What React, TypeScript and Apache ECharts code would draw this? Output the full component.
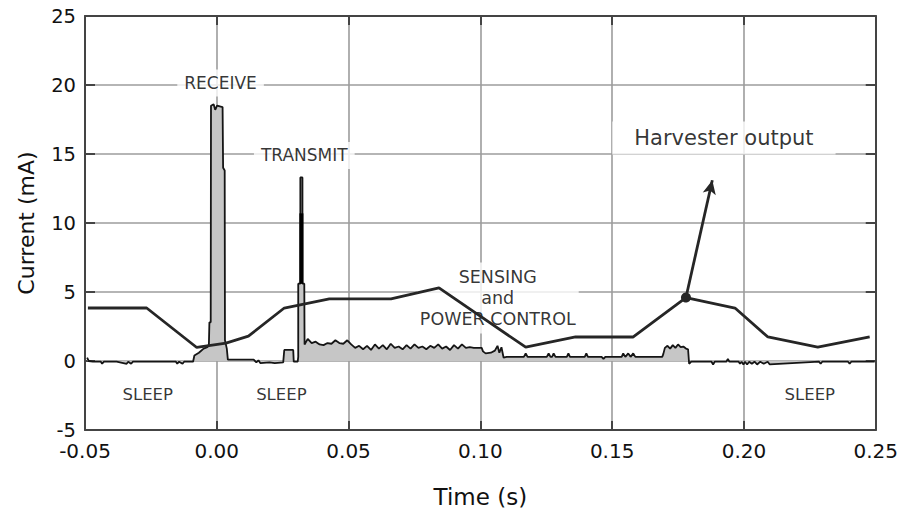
import React, { useEffect, useRef } from "react";
import * as echarts from "echarts";

// Harvester output (thick line)
const harvesterTime = [-0.0489, -0.0266, -0.0076, 0.0035, 0.012, 0.0256, 0.0427, 0.0661, 0.0843, 0.1172, 0.1361, 0.158, 0.178, 0.1966, 0.2091, 0.228, 0.2477];
const harvesterCurrent = [3.84, 3.84, 0.98, 1.3, 1.8, 3.84, 4.5, 4.5, 5.3, 1.0, 1.74, 1.74, 4.6, 3.84, 1.74, 1.0, 1.74];

// Load current trace (thin line, grey fill)
const loadTime = [
  -0.0492, -0.0486, -0.0470, -0.0440, -0.0435, -0.0428, -0.0380, -0.0342, -0.0336, -0.0325, -0.0318,
  -0.0250, -0.0155, -0.0150, -0.0143, -0.0130, -0.0124, -0.0090, -0.0085, -0.0068, -0.0050, -0.0036,
  -0.0030, -0.0028, -0.0023, -0.0022, -0.0012, -0.0006, 0.0001, 0.0022, 0.0024, 0.0030, 0.0031, 0.0038,
  0.0042, 0.0140, 0.0150, 0.0158, 0.0165, 0.0200, 0.0220, 0.0252, 0.0256, 0.0290, 0.0292, 0.0307,
  0.0309, 0.0309, 0.0317, 0.0317, 0.0325, 0.0325, 0.0332, 0.0333, 0.0345, 0.0360, 0.0375, 0.0390,
  0.0405, 0.0420, 0.0435, 0.0450, 0.0465, 0.0480, 0.0495, 0.0510, 0.0525, 0.0540, 0.0555, 0.0570,
  0.0585, 0.0600, 0.0615, 0.0630, 0.0645, 0.0660, 0.0675, 0.0690, 0.0705, 0.0720, 0.0735, 0.0750,
  0.0765, 0.0780, 0.0795, 0.0810, 0.0825, 0.0840, 0.0855, 0.0870, 0.0885, 0.0900, 0.0915, 0.0930,
  0.0945, 0.0960, 0.0975, 0.0990, 0.1005, 0.1010, 0.1020, 0.1040, 0.1055, 0.1065, 0.1072, 0.1080,
  0.1088, 0.1100, 0.1165, 0.1172, 0.1179, 0.1252, 0.1259, 0.1266, 0.1272, 0.1278, 0.1285, 0.1328,
  0.1334, 0.1340, 0.1396, 0.1402, 0.1408, 0.1460, 0.1467, 0.1474, 0.1536, 0.1542, 0.1550, 0.1561,
  0.1570, 0.1580, 0.1588, 0.1690, 0.1694, 0.1700, 0.1710, 0.1720, 0.1730, 0.1740, 0.1750, 0.1760,
  0.1770, 0.1780, 0.1788, 0.1792, 0.1800, 0.1877, 0.1883, 0.1889, 0.1933, 0.1939, 0.1945, 0.1980,
  0.1985, 0.1991, 0.1998, 0.2004, 0.2012, 0.2020, 0.2030, 0.2040, 0.2050, 0.2062, 0.2075, 0.2090,
  0.2098, 0.2285, 0.2291, 0.2297, 0.2395, 0.2401, 0.2407, 0.2496
];
const loadCurrent = [
  0.25, 0.0, -0.05, -0.05, -0.2, -0.05, -0.05, -0.2, -0.05, -0.2, -0.05,
  -0.05, -0.05, -0.2, -0.05, -0.2, -0.05, -0.05, 0.4, 0.6, 0.9, 1.0,
  1.2, 2.8, 2.8, 18.5, 18.6, 18.2, 18.5, 18.4, 14.0, 13.8, 1.5, 0.9,
  0.1, 0.1, -0.1, 0.05, -0.15, -0.1, -0.15, -0.1, 0.8, 0.8, -0.05, -0.05,
  0.3, 5.6, 5.6, 13.3, 13.3, 5.6, 5.6, 1.2, 1.6, 1.3, 1.4, 1.2,
  1.15, 1.3, 1.25, 1.5, 1.3, 1.25, 1.5, 1.2, 0.95, 1.1, 0.85, 1.1,
  0.8, 1.2, 0.9, 1.15, 0.85, 1.25, 0.95, 1.05, 0.85, 1.15, 0.9, 1.2,
  0.95, 1.05, 0.85, 1.1, 0.95, 1.2, 0.9, 1.05, 0.8, 1.15, 0.9, 1.2,
  0.95, 1.0, 0.95, 0.95, 0.95, 0.7, 0.55, 0.6, 0.75, 1.1, 0.6, 1.0,
  0.25, 0.3, 0.3, 0.55, 0.3, 0.3, 0.55, 0.3, 0.3, 0.55, 0.3, 0.3,
  0.55, 0.3, 0.3, 0.55, 0.3, 0.3, 0.15, 0.3, 0.3, 0.55, 0.3, 0.55,
  0.3, 0.55, 0.3, 0.3, 0.5, 0.95, 1.1, 0.9, 1.15, 0.95, 1.2, 1.0,
  1.05, 0.9, 0.85, -0.2, -0.05, -0.05, -0.25, -0.05, -0.05, 0.15, -0.05, -0.05,
  -0.2, -0.05, -0.25, -0.05, -0.25, -0.05, -0.2, -0.05, -0.25, -0.05, -0.2, -0.05,
  -0.25, -0.05, -0.2, -0.05, -0.05, -0.2, -0.05, -0.05
];

// Dense burst inside the transmit spike
const burstTime = [0.0321, 0.0321];
const burstCurrent = [5.6, 10.7];

// Harvester output arrow (from trace point to label)
const arrowStart = [0.178, 4.6];
const arrowEnd = [0.188, 13.1];

// Annotations
const annotationText = ["RECEIVE", "TRANSMIT", "SENSING\nand\nPOWER CONTROL", "Harvester output", "SLEEP", "SLEEP", "SLEEP"];
const annotationTime = [0.00144, 0.0332, 0.1066, 0.1924, -0.0262, 0.0245, 0.225];
const annotationCurrent = [20.14, 14.9, 4.57, 16.16, -2.46, -2.46, -2.46];

const xTickFormat = (v: number) => v.toFixed(2);

const FONT = "DejaVu Sans";

export default function App() {
  const ref = useRef<HTMLDivElement>(null);
  useEffect(() => {
    if (!ref.current) return;
    const chart = echarts.init(ref.current, undefined, { renderer: "svg" });
    const annStyles: any[] = [
      { fontSize: 17, backgroundColor: "#fff", padding: [5, 7] },
      { fontSize: 17, backgroundColor: "#fff", padding: [5, 7] },
      { fontSize: 17.5, lineHeight: 21, backgroundColor: "#fff", padding: [4, 3] },
      { fontSize: 21, backgroundColor: "#fff", padding: [6, 22] },
      { fontSize: 16.5 },
      { fontSize: 16.5 },
      { fontSize: 16.5 },
    ];
    const axisLineStyle = { color: "#444", width: 2 };
    const tickStyle = { color: "#444", width: 2 };
    const gridStyle = { color: "#9c9c9c", width: 1.6 };
    const option: any = {
      animation: false,
      backgroundColor: "#fff",
      grid: { left: 85, right: 23, top: 16, bottom: 84, containLabel: false },
      xAxis: [
        {
          type: "value",
          min: -0.05,
          max: 0.25,
          interval: 0.05,
          name: "Time (s)",
          nameLocation: "middle",
          nameGap: 55,
          nameTextStyle: { fontFamily: FONT, fontSize: 23, color: "#111" },
          axisLine: { show: true, onZero: false, lineStyle: axisLineStyle },
          axisTick: { show: true, inside: true, length: 9, lineStyle: tickStyle },
          axisLabel: { formatter: xTickFormat, fontFamily: FONT, fontSize: 20, color: "#111", margin: 11 },
          splitLine: { show: true, lineStyle: gridStyle },
        },
        {
          type: "value",
          position: "top",
          min: -0.05,
          max: 0.25,
          interval: 0.05,
          axisLine: { show: true, onZero: false, lineStyle: axisLineStyle },
          axisTick: { show: true, inside: true, length: 9, lineStyle: tickStyle },
          axisLabel: { show: false },
          splitLine: { show: false },
        },
      ],
      yAxis: [
        {
          type: "value",
          min: -5,
          max: 25,
          interval: 5,
          name: "Current (mA)",
          nameLocation: "middle",
          nameGap: 48,
          nameTextStyle: { fontFamily: FONT, fontSize: 22, color: "#111" },
          axisLine: { show: true, onZero: false, lineStyle: axisLineStyle },
          axisTick: { show: true, inside: true, length: 10, lineStyle: tickStyle },
          axisLabel: { fontFamily: FONT, fontSize: 19.5, color: "#111", margin: 9 },
          splitLine: { show: true, lineStyle: gridStyle },
        },
        {
          type: "value",
          position: "right",
          min: -5,
          max: 25,
          interval: 5,
          axisLine: { show: true, onZero: false, lineStyle: axisLineStyle },
          axisTick: { show: true, inside: true, length: 10, lineStyle: tickStyle },
          axisLabel: { show: false },
          splitLine: { show: false },
        },
      ],
      series: [
        {
          type: "scatter",
          name: "annotations",
          z: 1,
          symbolSize: 0,
          silent: true,
          data: annotationText.map((t, i) => ({
            name: t,
            value: [annotationTime[i], annotationCurrent[i]],
            label: {
              show: true,
              position: "inside",
              formatter: "{b}",
              fontFamily: FONT,
              color: "#000",
              align: "center",
              verticalAlign: "middle",
              ...annStyles[i],
            },
          })),
        },
        {
          type: "line",
          name: "Load current",
          z: 3,
          showSymbol: false,
          symbol: "none",
          data: loadTime.map((t, i) => [t, loadCurrent[i]]),
          lineStyle: { color: "#151515", width: 1.8 },
          areaStyle: { color: "#c6c6c6", opacity: 1, origin: 0 },
        },
        {
          type: "line",
          name: "Transmit burst",
          z: 4,
          showSymbol: false,
          symbol: "none",
          data: burstTime.map((t, i) => [t, burstCurrent[i]]),
          lineStyle: { color: "#000", width: 4 },
        },
        {
          type: "line",
          name: "Harvester output",
          z: 5,
          showSymbol: false,
          symbol: "none",
          data: harvesterTime.map((t, i) => [t, harvesterCurrent[i]]),
          lineStyle: { color: "#262626", width: 2.8 },
          markLine: {
            silent: true,
            symbol: ["circle", "arrow"],
            symbolSize: [10, 14],
            label: { show: false },
            lineStyle: { color: "#262626", width: 2.8, type: "solid" },
            itemStyle: { color: "#262626" },
            data: [[{ coord: arrowStart }, { coord: arrowEnd }]],
          },
        },
      ],
    };
    chart.setOption(option);
    return () => chart.dispose();
  }, []);
  return (
    <div
      ref={ref}
      style={{ position: "fixed", left: 0, top: 0, width: 901, height: 514, background: "#fff" }}
    />
  );
}
